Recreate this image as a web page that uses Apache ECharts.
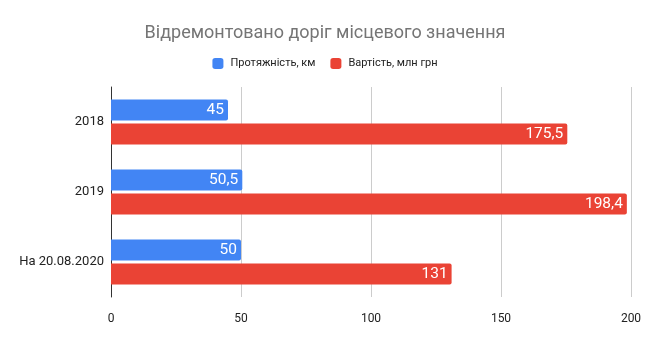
<!DOCTYPE html>
<html><head><meta charset="utf-8">
<script src="https://cdn.jsdelivr.net/npm/echarts@6/dist/echarts.min.js"></script>
<style>html,body{margin:0;padding:0;background:#fff}#c{width:650px;height:345px}</style>
</head><body><div id="c"></div>
<script>
const categories = ['2018', '2019', 'На 20.08.2020'];
const lengthKm = [45, 50.5, 50];
const costMln = [175.5, 198.4, 131];
const xTicks = [0, 50, 100, 150, 200];
const seriesNames = ['Протяжність, км', 'Вартість, млн грн'];

const chart = echarts.init(document.getElementById('c'), null, {renderer: 'canvas'});
const fmt = p => String(p.value).replace('.', ',');
const labelStyle = {show: true, position: 'insideRight', color: '#fff', fontSize: 15.5, fontFamily: 'Roboto', formatter: fmt, distance: 4};
chart.setOption({
  animation: false,
  textStyle: {fontFamily: 'Roboto'},
  title: {text: 'Відремонтовано доріг місцевого значення', left: 'center', top: 19,
    textStyle: {fontSize: 18, fontWeight: 'normal', color: '#757575', fontFamily: 'Roboto'}},
  legend: {top: 53, left: 'center', itemWidth: 11, itemHeight: 11, itemGap: 15,
    icon: 'roundRect',
    textStyle: {fontSize: 11, color: '#222', fontFamily: 'Roboto', padding: [0, 0, 0, 2]}, data: seriesNames},
  grid: {left: 111, right: 19, top: 87, height: 210, containLabel: false},
  xAxis: {type: 'value', min: xTicks[0], max: xTicks[xTicks.length - 1], interval: 50,
    axisLine: {show: false}, axisTick: {show: false},
    axisLabel: {color: '#222', fontSize: 12, margin: 16},
    splitLine: {lineStyle: {color: '#cccccc'}}},
  yAxis: {type: 'category', data: categories, inverse: true,
    axisLine: {show: true, lineStyle: {color: '#333'}}, axisTick: {show: false},
    axisLabel: {color: '#222', fontSize: 13, margin: 7}},
  series: [
    {name: seriesNames[0], type: 'bar', data: lengthKm, barWidth: 21, barGap: '14%',
      itemStyle: {color: '#4285F4', borderRadius: [0, 2, 2, 0]}, label: labelStyle},
    {name: seriesNames[1], type: 'bar', data: costMln, barWidth: 21,
      itemStyle: {color: '#EA4335', borderRadius: [0, 2, 2, 0]}, label: labelStyle}
  ]
});
</script></body></html>
